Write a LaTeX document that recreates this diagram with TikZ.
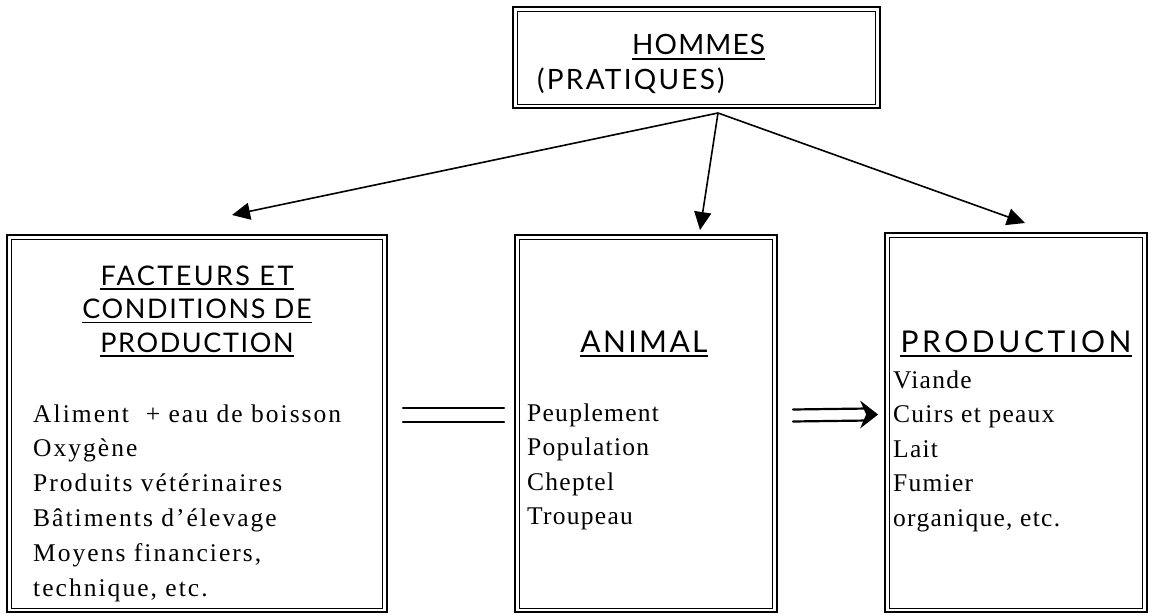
\documentclass[tikz,border=0pt]{standalone}
\usepackage{fontspec}
\setmainfont{Liberation Serif}
\newfontfamily\headfont[LetterSpace=6]{Lato}
\newfontfamily\bodyfont[LetterSpace=8]{Liberation Serif}
\newfontfamily\listfont[LetterSpace=5]{Liberation Serif}
\usetikzlibrary{arrows.meta,calc}

\begin{document}
\begin{tikzpicture}[x=1pt,y=-1pt,
  frame/.style={draw, line width=1.8pt, rectangle, inner sep=0pt},
  inframe/.style={draw, line width=0.9pt},
  head/.style={anchor=base, inner sep=0pt, font=\headfont\fontsize{27}{34}\selectfont},
  bighead/.style={anchor=base, inner sep=0pt, font=\headfont\fontsize{30}{34}\selectfont},
  tophead/.style={anchor=base west, inner sep=0pt, font=\headfont\fontsize{28}{34}\selectfont},
  body/.style={anchor=base west, inner sep=0pt, font=\bodyfont\fontsize{25.5}{35}\selectfont},
  list/.style={anchor=base west, inner sep=0pt, font=\listfont\fontsize{25.5}{35}\selectfont},
  uline/.style={line width=1.2pt},
  link/.style={line width=1.6pt, -{Triangle[length=18pt,width=17pt]}},
  bar/.style={line width=2.2pt, line cap=round},
]
\useasboundingbox (0,0) rectangle (1149,615);

% ---- frames (double border: thick outer, thin inner) ----
\node[frame, minimum width=367pt, minimum height=101pt] (top) at (696.5,57.5) {};
\node[frame, minimum width=380pt, minimum height=377pt] (fac) at (197,423.5) {};
\node[frame, minimum width=262pt, minimum height=377pt] (ani) at (646,423.5) {};
\node[frame, minimum width=262pt, minimum height=379pt] (pro) at (1016,422.5) {};
\foreach \b in {top,fac,ani,pro}
  \draw[inframe] ([shift={(5.5,5.5)}]\b.north west) rectangle ([shift={(-5.5,-4.5)}]\b.south east);

% ---- top box ----
\node[tophead] (hom) at (632,55) {\addfontfeature{LetterSpace=4}HOMMES};
\node[tophead] (pra) at (537,90) {\addfontfeature{LetterSpace=8}(PRATIQUES)};

% ---- headings ----
\node[head] (h1) at (197,285) {\addfontfeature{LetterSpace=9}FACTEURS ET};
\node[head] (h2) at (197,318.5) {CONDITIONS DE};
\node[head] (h3) at (197,352) {PRODUCTION};
\node[bighead] (h4) at (644,352) {\addfontfeature{LetterSpace=8}ANIMAL};
\node[bighead] (h5) at (1016,352) {\addfontfeature{LetterSpace=12}PRODUCTION};
\foreach \h in {hom,h1,h2,h3,h4,h5}
  \draw[uline] ([yshift=-4pt]\h.base west) -- ([yshift=-4pt]\h.base east);

% ---- lists ----
\foreach \t [count=\i] in {Aliment \ + eau de boisson, Oxygène, Produits vétérinaires,
    Bâtiments d’élevage, {Moyens financiers,}, {technique, etc.}}
  \node[body] (fl\i) at (33,{422+34.8*(\i-1)}) {\t};
\foreach \t [count=\i] in {Peuplement, Population, Cheptel, Troupeau}
  \node[list] (al\i) at (527,{421+34.5*(\i-1)}) {\t};
\foreach \t [count=\i] in {Viande, Cuirs et peaux, Lait, Fumier, {organique, etc.}}
  \node[list] (pl\i) at (893,{388+34.5*(\i-1)}) {\t};

% ---- arrows from the top box ----
\coordinate (apex) at (718,113);
\coordinate (tipF) at (232,215);
\coordinate (tipA) at (700,230);
\coordinate (tipP) at (1025,223);
\draw[link] (apex) -- (tipF);
\draw[link] (apex) -- (tipA);
\draw[link] (apex) -- (tipP);

% ---- equals between factors and animal ----
\draw[bar] ([shift={(15,-15.5)}]fac.east) -- ([shift={(-10,-15.5)}]ani.west);
\draw[bar] ([shift={(15,-1.5)}]fac.east) -- ([shift={(-10,-1.5)}]ani.west);

% ---- double arrow from animal to production ----
\coordinate (dA) at ([shift={(15,-8)}]ani.east);
\coordinate (dB) at ([shift={(-6,-8)}]pro.west);
\draw[bar] ([shift={(0,-6)}]dA) -- ([shift={(-10,-6)}]dB);
\draw[bar] ([shift={(0,6)}]dA) -- ([shift={(-10,6)}]dB);
\fill ($(dB)+(-18,-14)$) -- (dB) -- ($(dB)+(-18,14)$) -- ($(dB)+(-12,0)$) -- cycle;
\end{tikzpicture}
\end{document}
